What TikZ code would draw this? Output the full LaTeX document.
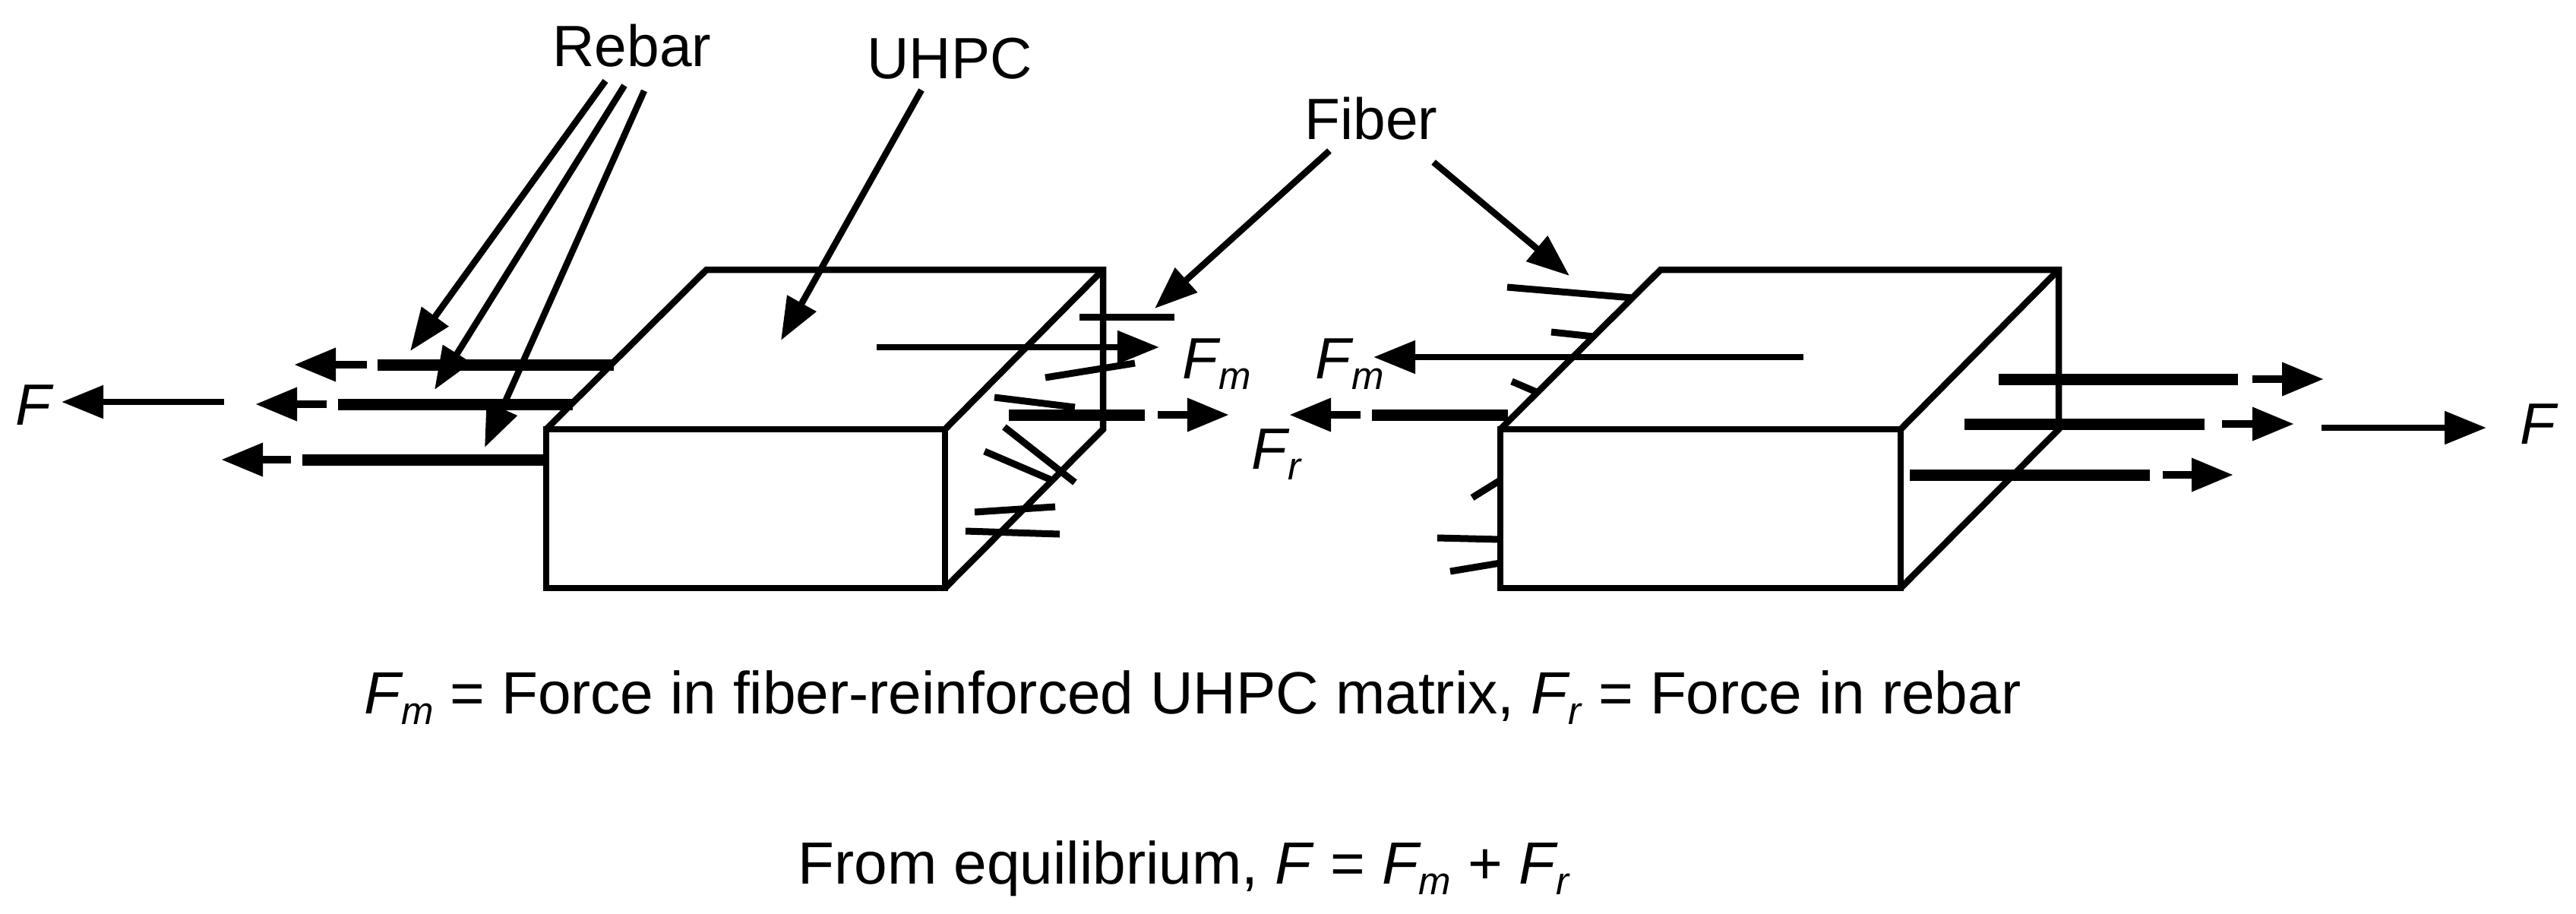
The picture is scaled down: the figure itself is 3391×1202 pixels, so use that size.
\documentclass[tikz,border=0pt]{standalone}
\usepackage{fontspec}
\setmainfont{Liberation Sans}
\usetikzlibrary{arrows.meta}

\newcommand{\subF}[1]{\textit{F}\kern-0.03cm\raisebox{-0.14cm}{\fontsize{14.5}{18}\selectfont\textit{#1}}}

\tikzset{
    label text/.style={inner sep=0pt, anchor=base, font=\fontsize{21.8}{26}\selectfont},
    note text/.style={inner sep=0pt, anchor=base, font=\fontsize{22.3}{26}\selectfont},
    force text/.style={inner sep=0pt, anchor=base west, font=\fontsize{21.8}{26}\selectfont},
    box edge/.style={line width=0.085cm},
    bar/.style={line width=0.15cm},
    fiber/.style={line width=0.09cm},
    leader/.style={line width=0.085cm, -{Triangle[length=0.56cm,width=0.42cm]}},
    stub/.style={line width=0.1cm, -{Triangle[length=0.55cm,width=0.42cm]}},
    force/.style={line width=0.085cm, -{Triangle[length=0.55cm,width=0.42cm]}}
}

\begin{document}
\begin{tikzpicture}[x=0.01cm, y=-0.01cm]
    \useasboundingbox (0,0) rectangle (3391,1202);

    % Labels
    \node[label text] (rebar) at (832,87) {Rebar};
    \node[label text] (uhpc) at (1250,103) {UHPC};
    \node[label text] (fiber) at (1805,183) {Fiber};

    % Leader tips
    \coordinate (rebarA) at (540,462);
    \coordinate (rebarB) at (572,513);
    \coordinate (rebarC) at (638,589);
    \coordinate (matrix) at (1028,448);
    \coordinate (fiberL) at (1520,406);
    \coordinate (fiberR) at (2066,363);

    % Left block
    \draw[box edge] (719,565) rectangle (1244,774);
    \draw[box edge] (719,565) -- (930,355) -- (1452,355) -- (1452,565) -- (1244,774);
    \draw[box edge] (1244,565) -- (1452,355);

    % Right block
    \draw[box edge] (1975,565) rectangle (2502,774);
    \draw[box edge] (1975,565) -- (2186,355) -- (2710,355) -- (2710,565) -- (2502,774);
    \draw[box edge] (2502,565) -- (2710,355);

    % Leaders
    \draw[leader] ([xshift=-0.35cm,yshift=-0.18cm]rebar.south) -- (rebarA);
    \draw[leader] ([xshift=-0.10cm,yshift=-0.24cm]rebar.south) -- (rebarB);
    \draw[leader] ([xshift=0.16cm,yshift=-0.31cm]rebar.south) -- (rebarC);
    \draw[leader] ([xshift=-0.37cm,yshift=-0.14cm]uhpc.south) -- (matrix);
    \draw[leader] ([xshift=-0.55cm,yshift=-0.14cm]fiber.south) -- (fiberL);
    \draw[leader] ([xshift=0.82cm,yshift=-0.29cm]fiber.south) -- (fiberR);

    % Left rebars
    \draw[bar] (808,480) -- (497,480);
    \draw[stub] (483,480) -- (387,480);
    \draw[bar] (754,532) -- (445,532);
    \draw[stub] (430,532) -- (336,532);
    \draw[bar] (716,605) -- (398,605);
    \draw[stub] (383,605) -- (291,605);
    \draw[force] (295,529) -- (81,529);
    \node[force text] (forceL) at (20,559) {\textit{F}};

    % Fibers, left block
    \draw[fiber] (1421,417) -- (1546,417);
    \draw[fiber] (1376,497) -- (1494,478);
    \draw[fiber] (1309,523) -- (1415,536);
    \draw[fiber] (1322,562) -- (1415,635);
    \draw[fiber] (1296,594) -- (1387,633);
    \draw[fiber] (1283,674) -- (1389,667);
    \draw[fiber] (1271,699) -- (1395,703);

    % Forces, left block
    \draw[force] (1154,457) -- (1526,457);
    \draw[bar] (1328,546) -- (1507,546);
    \draw[stub] (1524,546) -- (1618,546);
    \node[force text] (fmL) at (1556,498) {\subF{m}};

    % Fibers, right block
    \draw[fiber] (1984,378) -- (2149,392);
    \draw[fiber] (2042,437) -- (2098,443);
    \draw[fiber] (1990,502) -- (2025,517);
    \draw[fiber] (1938,655) -- (1975,632);
    \draw[fiber] (1892,708) -- (1975,710);
    \draw[fiber] (1909,752) -- (1975,741);

    % Forces, right block
    \draw[force] (2374,470) -- (1808,470);
    \draw[bar] (1985,546) -- (1806,546);
    \draw[stub] (1791,546) -- (1697,546);
    \node[force text] (fmR) at (1731,498) {\subF{m}};
    \node[force text] (frR) at (1647,617) {\subF{r}};

    % Right rebars
    \draw[bar] (2631,499) -- (2946,499);
    \draw[stub] (2965,499) -- (3059,499);
    \draw[bar] (2586,558) -- (2902,558);
    \draw[stub] (2925,558) -- (3020,558);
    \draw[bar] (2514,625) -- (2830,625);
    \draw[stub] (2847,625) -- (2940,625);
    \draw[force] (3056,563) -- (3273,563);
    \node[force text] (forceR) at (3317,584) {\textit{F}};

    % Equations
    \node[note text] (legend) at (1570,939) {\subF{m} = Force in fiber-reinforced UHPC matrix, \subF{r} = Force in rebar};
    \node[note text] (balance) at (1559,1163) {From equilibrium, \textit{F} = \subF{m} + \subF{r}};
\end{tikzpicture}
\end{document}
